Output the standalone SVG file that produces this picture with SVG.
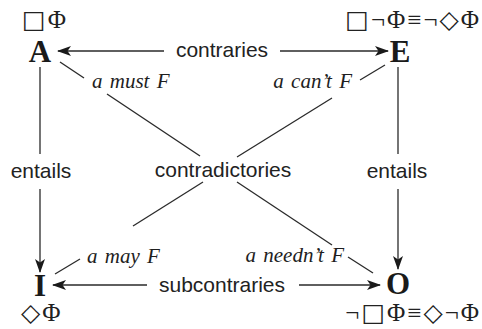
<svg xmlns="http://www.w3.org/2000/svg" width="482" height="329" viewBox="0 0 482 329">
<style>
  .bg { fill: #ffffff; }
  .ln { stroke: #2a2a2a; stroke-width: 1.3; fill: none; }
  .arr { marker-end: url(#ah); }
  .rel { font-family: "Liberation Sans", Arial, sans-serif; font-size: 21px; fill: #222; }
  .ital { font-family: "Liberation Serif", "Times New Roman", serif; font-style: italic; font-size: 21px; word-spacing: 2px; fill: #1e1e1e; }
  .big { font-family: "Liberation Serif", "Times New Roman", serif; font-weight: bold; font-size: 31px; fill: #1a1a1a; }
  .modal { font-family: "Liberation Serif", "DejaVu Serif", serif; font-size: 25px; letter-spacing: 2px; fill: #222; }
  .sym { font-family: "DejaVu Sans", sans-serif; }
</style>
<defs>
  <marker id="ah" viewBox="0 0 14 10" refX="13" refY="5" markerWidth="14" markerHeight="10" markerUnits="userSpaceOnUse" orient="auto">
    <path d="M0,0 L14,5 L0,10 L3.5,5 Z" fill="#1a1a1a"/>
  </marker>
</defs>
<rect class="bg" x="0" y="0" width="482" height="329"/>

<g id="connectors">
  <!-- contraries -->
  <line class="ln arr" x1="164" y1="51" x2="58" y2="51"/>
  <line class="ln arr" x1="280" y1="51" x2="388" y2="51"/>
  <!-- subcontraries -->
  <line class="ln arr" x1="147" y1="285" x2="53" y2="285"/>
  <line class="ln arr" x1="299" y1="285" x2="380" y2="285"/>
  <!-- entails left -->
  <line class="ln" x1="40" y1="67" x2="40" y2="154"/>
  <line class="ln arr" x1="40" y1="189" x2="40" y2="272"/>
  <!-- entails right -->
  <line class="ln" x1="398" y1="67" x2="398" y2="154"/>
  <line class="ln arr" x1="398" y1="189" x2="398" y2="269"/>
  <!-- diagonal A-O -->
  <line class="ln" x1="60" y1="62" x2="84" y2="78"/>
  <line class="ln" x1="107" y1="94" x2="200" y2="156"/>
  <line class="ln" x1="237" y1="182" x2="332" y2="245"/>
  <line class="ln" x1="348" y1="257" x2="373" y2="273"/>
  <!-- diagonal E-I -->
  <line class="ln" x1="385" y1="65" x2="360" y2="80"/>
  <line class="ln" x1="332" y1="98" x2="237" y2="157"/>
  <line class="ln" x1="203" y1="182" x2="133" y2="226"/>
  <line class="ln" x1="80" y1="259" x2="55" y2="274"/>
</g>

<g id="labels">
  <text class="rel" x="222" y="57" text-anchor="middle">contraries</text>
  <text class="rel" x="222" y="292" text-anchor="middle">subcontraries</text>
  <text class="rel" x="41" y="178" text-anchor="middle">entails</text>
  <text class="rel" x="397" y="178" text-anchor="middle">entails</text>
  <text class="rel" x="223" y="177" text-anchor="middle">contradictories</text>
  <text class="ital" x="92" y="88">a must F</text>
  <text class="ital" x="352" y="88" text-anchor="end">a can’t F</text>
  <text class="ital" x="87" y="263">a may F</text>
  <text class="ital" x="344" y="262" text-anchor="end">a needn’t F</text>
</g>

<g id="node-A">
  <text class="big" x="40" y="62" text-anchor="middle">A</text>
  <text class="modal" x="22" y="28"><tspan class="sym">□</tspan>Φ</text>
</g>
<g id="node-E">
  <text class="big" x="400" y="62" text-anchor="middle">E</text>
  <text class="modal" x="481" y="28" text-anchor="end"><tspan class="sym">□</tspan>¬Φ≡¬<tspan class="sym">◇</tspan>Φ</text>
</g>
<g id="node-I">
  <text class="big" x="40" y="296" text-anchor="middle">I</text>
  <text class="modal" x="21" y="321"><tspan class="sym">◇</tspan>Φ</text>
</g>
<g id="node-O">
  <text class="big" x="398" y="294" text-anchor="middle">O</text>
  <text class="modal" x="481" y="321" text-anchor="end">¬<tspan class="sym">□</tspan>Φ≡<tspan class="sym">◇</tspan>¬Φ</text>
</g>
</svg>
